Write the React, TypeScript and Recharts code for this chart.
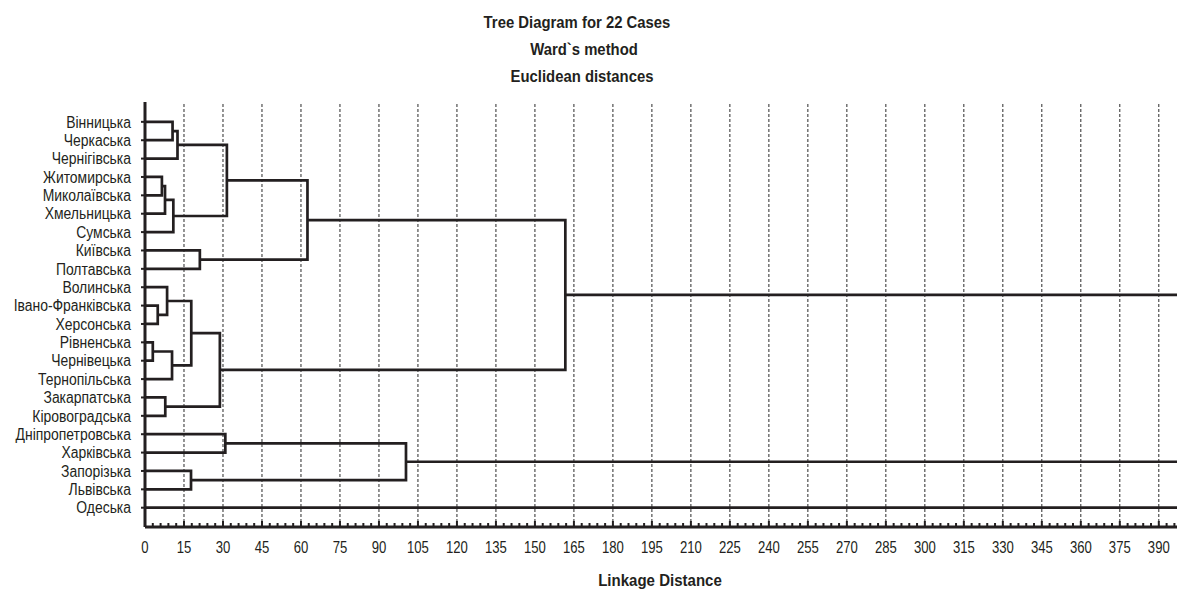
import React from 'react';
import { ComposedChart, Line, XAxis, YAxis, ReferenceLine } from 'recharts';

const leaves = [
  'Вінницька', 'Черкаська', 'Чернігівська', 'Житомирська', 'Миколаївська', 'Хмельницька',
  'Сумська', 'Київська', 'Полтавська', 'Волинська', 'Івано-Франківська', 'Херсонська',
  'Рівненська', 'Чернівецька', 'Тернопільська', 'Закарпатська', 'Кіровоградська',
  'Дніпропетровська', 'Харківська', 'Запорізька', 'Львівська', 'Одеська',
];

// linkage rows [left, right, distance]; ids >= leaves.length point to earlier rows (id - 22)
const merges: [number, number, number][] = [
  [0, 1, 10.6],    // 22
  [22, 2, 12.5],   // 23
  [3, 4, 6.5],     // 24
  [24, 5, 7.7],    // 25
  [25, 6, 10.9],   // 26
  [23, 26, 31.5],  // 27
  [7, 8, 21.1],    // 28
  [27, 28, 62.5],  // 29
  [10, 11, 4.9],   // 30
  [9, 30, 8.5],    // 31
  [12, 13, 3.0],   // 32
  [32, 14, 10.4],  // 33
  [31, 33, 17.8],  // 34
  [15, 16, 7.8],   // 35
  [34, 35, 28.8],  // 36
  [29, 36, 161.7], // 37
  [17, 18, 30.9],  // 38
  [19, 20, 17.7],  // 39
  [38, 39, 100.4], // 40
];

// clusters that only join beyond the right edge of the plot
const openClusters = [37, 40, 21];

const xTicks = [0, 15, 30, 45, 60, 75, 90, 105, 120, 135, 150, 165, 180, 195, 210, 225, 240,
  255, 270, 285, 300, 315, 330, 345, 360, 375, 390];
const topTicks = [40, 80, 120, 160, 200, 240, 280, 320, 360];
const X_MAX = 397;
const minorTicks = Array.from({ length: 133 }, (_, i) => i * 3);

const INK = '#231f20';
const FONT = '"Liberation Sans", Arial, sans-serif';

const n = leaves.length;
const nodeY = (id: number): number =>
  id < n ? id : (nodeY(merges[id - n][0]) + nodeY(merges[id - n][1])) / 2;
const nodeH = (id: number): number => (id < n ? 0 : merges[id - n][2]);

const links = merges.map(([a, b, h], i) => ({
  id: `m${i}`,
  points: [
    { x: nodeH(a), y: nodeY(a) },
    { x: h, y: nodeY(a) },
    { x: h, y: nodeY(b) },
    { x: nodeH(b), y: nodeY(b) },
  ],
}));
const tails = openClusters.map((id) => ({
  id: `t${id}`,
  points: [
    { x: nodeH(id), y: nodeY(id) },
    { x: X_MAX, y: nodeY(id) },
  ],
}));

// condensed text: the reference font is narrow, so squeeze Liberation Sans horizontally
const Narrow = ({ x, y, sx, anchor, bold, dy, children }: any) => (
  <text
    transform={`translate(${x},${y}) scale(${sx},1)`}
    textAnchor={anchor}
    dy={dy}
    fontSize={16}
    fontWeight={bold ? 'bold' : 'normal'}
    fontFamily={FONT}
    fill={INK}
  >
    {children}
  </text>
);

const BottomTick = (props: any) => {
  const { x, y, payload } = props;
  const major = xTicks.includes(payload.value);
  return (
    <g>
      <line x1={x} x2={x} y1={y} y2={y - (major ? 6 : 4)} stroke={INK} strokeWidth={2} />
      {major && (
        <Narrow x={x} y={y + 26} sx={0.82} anchor="middle">
          {payload.value}
        </Narrow>
      )}
    </g>
  );
};

const TopTick = (props: any) => {
  const { x, y } = props;
  return <line x1={x} x2={x} y1={y} y2={y + 5} stroke={INK} strokeWidth={3} />;
};

const LeafTick = (props: any) => {
  const { x, y, payload } = props;
  return (
    <Narrow x={x} y={y} sx={0.87} anchor="end" dy="0.36em">
      {leaves[payload.value]}
    </Narrow>
  );
};

const App = () => (
  <div style={{ position: 'absolute', left: 0, top: 0, width: 1177, height: 590, background: '#fff' }}>
    <ComposedChart width={1177} height={590} margin={{ top: 102, right: 0, bottom: 0, left: 0 }}>
      <XAxis
        dataKey="x"
        type="number"
        domain={[0, X_MAX]}
        allowDataOverflow
        ticks={minorTicks}
        interval={0}
        height={63}
        tickSize={0}
        tickMargin={0}
        tickLine={false}
        axisLine={{ stroke: INK, strokeWidth: 3 }}
        tick={<BottomTick />}
      />
      <XAxis
        xAxisId="top"
        orientation="top"
        type="number"
        domain={[0, X_MAX]}
        allowDataOverflow
        ticks={topTicks}
        interval={0}
        height={0}
        tickSize={0}
        tickMargin={0}
        tickLine={false}
        axisLine={{ stroke: INK, strokeWidth: 3 }}
        tick={<TopTick />}
      />
      <YAxis
        type="number"
        domain={[-1.08, 22.05]}
        reversed
        allowDataOverflow
        ticks={leaves.map((_, i) => i)}
        interval={0}
        width={145}
        tickSize={4}
        tickMargin={10}
        tick={<LeafTick />}
        tickLine={{ stroke: INK, strokeWidth: 2 }}
        axisLine={{ stroke: INK, strokeWidth: 3 }}
      />
      {xTicks.slice(1).map((v) => (
        <ReferenceLine key={`g${v}`} x={v} stroke="#2a2a2a" strokeWidth={1} strokeDasharray="3 2" />
      ))}
      {[...links, ...tails].map((l) => (
        <Line
          key={l.id}
          data={l.points}
          dataKey="y"
          type="linear"
          stroke={INK}
          strokeWidth={2.7}
          dot={false}
          activeDot={false}
          isAnimationActive={false}
          legendType="none"
        />
      ))}
    </ComposedChart>
    <svg width={1177} height={590} style={{ position: 'absolute', left: 0, top: 0, pointerEvents: 'none' }}>
      <Narrow x={577} y={28} sx={0.93} anchor="middle" bold>Tree Diagram for 22 Cases</Narrow>
      <Narrow x={584} y={55} sx={0.93} anchor="middle" bold>Ward`s method</Narrow>
      <Narrow x={582} y={82} sx={0.93} anchor="middle" bold>Euclidean distances</Narrow>
      <Narrow x={660} y={586} sx={0.94} anchor="middle" bold>Linkage Distance</Narrow>
    </svg>
  </div>
);

export default App;
